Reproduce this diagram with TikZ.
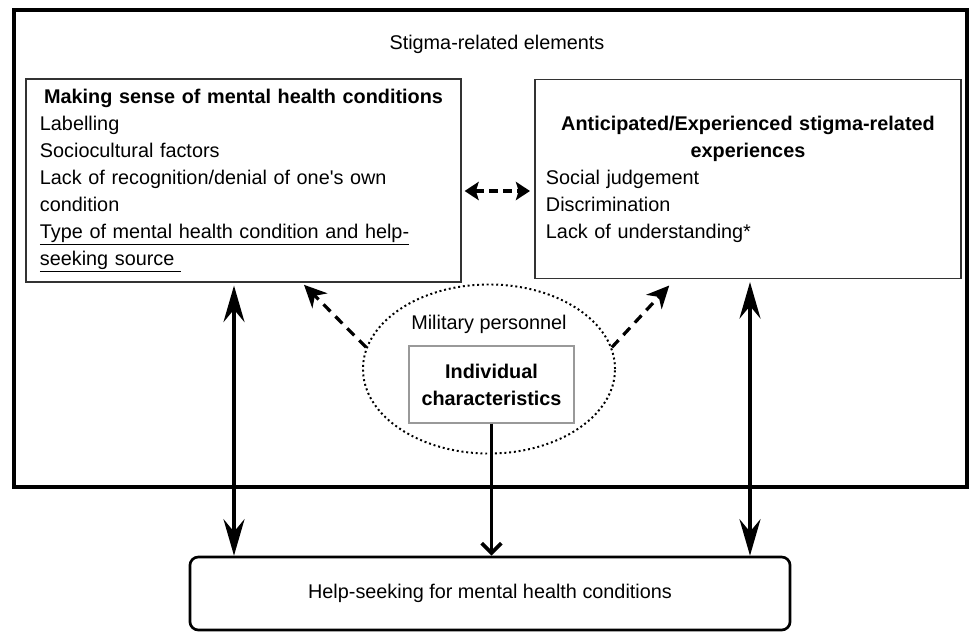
\documentclass[tikz,border=0pt]{standalone}
\usepackage{fontspec}
\setmainfont{Liberation Sans}
\usetikzlibrary{arrows.meta, shapes.geometric, positioning}
\setlength{\parindent}{0pt}

\begin{document}
\begin{tikzpicture}[x=0.025cm, y=-0.025cm,
  every node/.style={font=\fontsize{14.1}{19.2}\selectfont},
  caixa/.style={draw=black!80, line width=1.1pt},
  seta/.style={line width=2.2pt, {Stealth[length=26pt,width=15pt,inset=9pt]}-{Stealth[length=26pt,width=15pt,inset=9pt]}},
  tracejada/.style={line width=2.3pt, dash pattern=on 7pt off 5pt}]

\useasboundingbox (0,0) rectangle (969,632);

% Moldura dos elementos de estigma
\node[draw, line width=3pt, minimum width=23.825cm, minimum height=11.925cm] (estigma) at (490.5,248.5) {};
\node (titulo) at (497,44) {Stigma-related elements};

% Caixa da esquerda
\node[caixa, minimum width=10.875cm, minimum height=5.075cm, inner xsep=0.35cm, text width=10.175cm] (sentido) at (243.5,180.5)
  {\centering\textbf{Making sense of mental health conditions}\par
   \raggedright Labelling\\
   Sociocultural factors\\
   Lack of recognition/denial of one\textquotesingle s own\\
   condition\\
   \underline{Type of mental health condition and help-}\\
   \underline{seeking source\ }};

% Caixa da direita
\node[caixa, minimum width=10.65cm, minimum height=4.975cm, inner xsep=0.275cm, text width=10.1cm] (estigmaexp) at (748,179)
  {\centering\textbf{Anticipated/Experienced stigma-related}\\
   \textbf{experiences}\par
   \raggedright Social judgement\\
   Discrimination\\
   Lack of understanding*};

% Seta tracejada entre as caixas
\draw[tracejada, dash pattern=on 6pt off 4pt, {Stealth[length=10pt,width=13pt,inset=2pt]}-{Stealth[length=10pt,width=13pt,inset=2pt]}]
  ([xshift=2pt]sentido.east |- 0,191) -- ([xshift=-3pt]estigmaexp.west |- 0,191);

% Elipse dos militares
\node[ellipse, draw, dotted, line width=1.4pt, minimum width=6.3cm, minimum height=4.225cm] (militares) at (489,369) {};
\node (militar) at (489,324) {Military personnel};
\node[draw=black!40, line width=0.8pt, minimum width=4.125cm, minimum height=1.925cm, align=center, font=\fontsize{14.1}{19.2}\selectfont\bfseries] (individual) at (491.5,384.5) {Individual\\characteristics};

% Setas tracejadas saindo da elipse
\draw[tracejada, -{Stealth[length=16pt,width=15pt,inset=5pt]}, shorten >=2pt] (militares.170) -- (302,0 |- sentido.south);
\draw[tracejada, -{Stealth[length=16pt,width=15pt,inset=5pt]}, shorten >=6pt] (militares.10) -- (675,0 |- estigmaexp.south);

% Procura de ajuda
\node[draw, line width=1.9pt, rounded corners=6pt, minimum width=15cm, minimum height=1.825cm] (ajuda) at (490,593.5) {Help-seeking for mental health conditions};

% Setas verticais
\draw[seta] ([yshift=-2pt]234,0 |- sentido.south) -- (234,0 |- ajuda.north);
\draw[seta] ([yshift=-2pt]750,0 |- estigmaexp.south) -- (750,0 |- ajuda.north);
\draw[line width=2.6pt, -{Straight Barb[length=7pt,width=14pt,line width=2.6pt]}] (individual.south) -- (individual.south |- ajuda.north);

\end{tikzpicture}
\end{document}
